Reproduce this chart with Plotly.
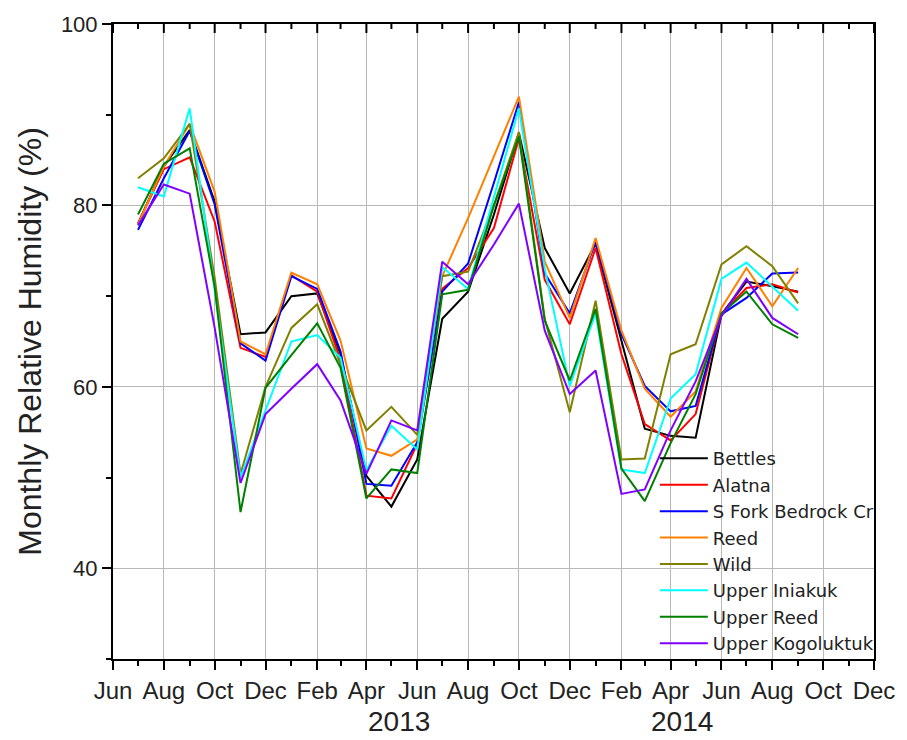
import plotly.graph_objects as go
import pandas as pd

months = pd.date_range("2012-07-01", periods=27, freq="MS")

series_names = ["Bettles", "Alatna", "S Fork Bedrock Cr", "Reed", "Wild",
                "Upper Iniakuk", "Upper Reed", "Upper Kogoluktuk"]
series_colors = ["#000000", "#FF0000", "#0000FF", "#FF8000", "#808000",
                 "#00FFFF", "#008000", "#8000FF"]

bettles = [78.0, 84.3, 88.3, 80.4, 65.8, 66.0, 70.0, 70.3, 63.6, 50.2, 46.8, 52.0, 67.5, 70.5,
           79.0, 88.0, 75.3, 70.3, 75.8, 65.1, 55.4, 54.6, 54.4, 68.0, 71.6, 71.1, 70.5]
alatna = [78.0, 84.0, 85.3, 78.2, 64.3, 63.3, 72.3, 70.5, 62.9, 48.0, 47.7, 53.7, 70.8, 73.1,
          77.5, 87.4, 71.8, 66.9, 75.3, 63.6, 55.9, 54.1, 57.0, 68.0, 70.9, 71.3, 70.4]
sfork = [77.3, 83.0, 88.2, 80.1, 64.8, 62.9, 72.2, 70.8, 63.9, 49.3, 49.1, 53.9, 70.5, 73.6,
         82.5, 91.4, 72.5, 68.1, 76.0, 65.8, 60.1, 57.3, 57.9, 68.0, 69.8, 72.5, 72.6]
reed = [77.9, 84.3, 89.0, 81.5, 65.0, 63.6, 72.6, 71.3, 65.1, 53.2, 52.4, 54.2, 72.2, 78.6,
        85.4, 92.0, 73.8, 67.6, 76.4, 66.2, 59.8, 56.7, 59.5, 68.7, 73.1, 68.9, 73.1]
wild = [83.0, 85.2, 89.0, 72.0, 50.4, 60.0, 66.5, 69.1, 62.5, 55.2, 57.8, 54.7, 72.2, 72.7,
        80.0, 88.1, 67.5, 57.2, 69.5, 52.0, 52.1, 63.6, 64.7, 73.5, 75.5, 73.3, 69.2]
upper_iniakuk = [82.0, 81.0, 90.7, 70.7, 50.0, 57.4, 65.0, 65.7, 63.2, 50.8, 55.7, 53.1, 73.2, 70.8,
                 81.0, 90.7, 73.0, 60.1, 68.1, 50.9, 50.5, 58.7, 61.4, 71.9, 73.7, 71.1, 68.4]
upper_reed = [79.0, 84.6, 86.3, 71.0, 46.2, 59.9, 63.5, 67.0, 62.1, 47.7, 50.9, 50.5, 70.2, 70.7,
              80.0, 87.6, 67.3, 60.7, 68.6, 51.0, 47.4, 53.8, 59.2, 68.1, 70.5, 66.9, 65.4]
upper_kogoluktuk = [77.8, 82.3, 81.3, 66.5, 49.4, 57.0, 59.8, 62.5, 58.5, 50.4, 56.3, 55.2, 73.8, 71.3,
                    75.7, 80.2, 66.2, 59.2, 61.8, 48.2, 48.7, 55.2, 60.6, 67.8, 71.9, 67.6, 65.8]

all_series = [bettles, alatna, sfork, reed, wild, upper_iniakuk, upper_reed, upper_kogoluktuk]

year_labels = ["2013", "2014"]
year_label_pos = ["2013-05-10", "2014-04-15"]

x_range = ["2012-06-01", "2014-12-01"]
y_range = [30, 100]

FONT_N = "Liberation Sans Narrow, Arial Narrow, Liberation Sans, Arial, sans-serif"
FONT_REG = "Liberation Sans, Arial, sans-serif"
FONT_LEG = "DejaVu Sans, Liberation Sans, Arial, sans-serif"

PLOT_H = 740 - 22 - 81  # plot-area height in px, for inward top tick lengths

fig = go.Figure()
for name, color, vals in zip(series_names, series_colors, all_series):
    fig.add_trace(go.Scatter(x=months, y=vals, mode="lines", name=name,
                             line=dict(color=color, width=2)))

fig.update_layout(
    width=907, height=740,
    margin=dict(l=113, r=20, t=22, b=81),
    plot_bgcolor="white", paper_bgcolor="white",
    showlegend=True,
    legend=dict(x=0.712, y=-0.005, xanchor="left", yanchor="bottom",
                bgcolor="rgba(0,0,0,0)", font=dict(family=FONT_LEG, size=18, color="#222"),
                itemwidth=48, tracegroupgap=0),
    xaxis=dict(
        type="date", range=x_range, tickformat="%b", dtick="M2", tick0="2012-06-01",
        ticks="outside", ticklen=9, tickwidth=2, tickcolor="black",
        showline=True, linecolor="black", linewidth=2, mirror=True,
        showgrid=True, gridcolor="#b8b8b8", gridwidth=1,
        tickfont=dict(family=FONT_N, size=24, color="#222"),
        ticklabeloverflow="allow",
        minor=dict(ticks="outside", ticklen=5, tickwidth=2, tickcolor="black", dtick="M1", showgrid=False),
        zeroline=False,
    ),
    yaxis=dict(
        range=y_range, dtick=20, tick0=0,
        ticks="outside", ticklen=9, tickwidth=2, tickcolor="black",
        showline=True, linecolor="black", linewidth=2, mirror=True,
        showgrid=True, gridcolor="#b8b8b8", gridwidth=1,
        tickfont=dict(family=FONT_REG, size=22, color="#222"),
        minor=dict(ticks="outside", ticklen=5, tickwidth=2, tickcolor="black", dtick=10, showgrid=False),
        title=dict(text="Monthly Relative Humidity (%)", font=dict(family=FONT_REG, size=32, color="#222"),
                   standoff=10),
        zeroline=False,
    ),
)

# inward tick marks along the top frame (major every 2 months, minor monthly)
top_tick_dates = pd.date_range(x_range[0], x_range[1], freq="MS")
for i, d in enumerate(top_tick_dates):
    length = 9 if i % 2 == 0 else 5
    fig.add_shape(type="line", xref="x", yref="paper", x0=d, x1=d,
                  y0=1, y1=1 - length / PLOT_H, line=dict(color="black", width=2))

for txt, pos in zip(year_labels, year_label_pos):
    fig.add_annotation(x=pos, y=-0.098, xref="x", yref="paper", text=txt, showarrow=False,
                       font=dict(family=FONT_N, size=28, color="#222"), yanchor="middle")

fig.write_html("out.html")
